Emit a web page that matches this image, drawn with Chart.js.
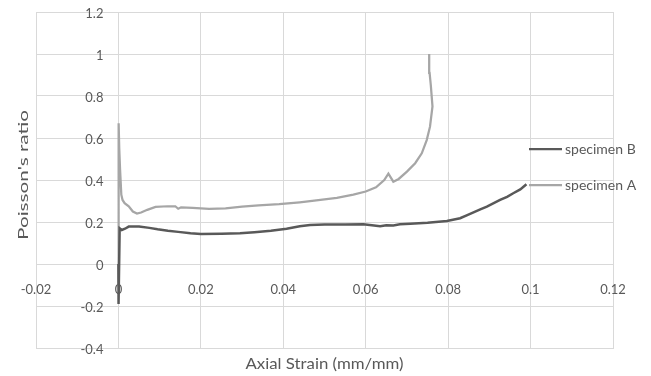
<!DOCTYPE html>
<html><head><meta charset="utf-8">
<script src="https://cdn.jsdelivr.net/npm/chart.js@4"></script>
<style>html,body{margin:0;padding:0;background:#fff}#wrap{width:651px;height:376px;position:relative}</style>
</head><body><div id="wrap"><canvas id="c" width="651" height="376"></canvas></div>
<script>
const seriesNames = ['specimen B', 'specimen A'];
const strainB = [0, 0.00003, 0.0003, 0.0008, 0.0016, 0.0025, 0.005, 0.0075, 0.0095, 0.012, 0.0145, 0.0175, 0.02, 0.025, 0.0295, 0.033, 0.037, 0.0408, 0.044, 0.0465, 0.05, 0.055, 0.0594, 0.0615, 0.0635, 0.065, 0.0667, 0.0683, 0.0708, 0.075, 0.0797, 0.0829, 0.0845, 0.0878, 0.0894, 0.0926, 0.0943, 0.0958, 0.0975, 0.099];
const ratioB  = [0, -0.19, 0.17, 0.162, 0.168, 0.178, 0.178, 0.172, 0.165, 0.158, 0.153, 0.146, 0.143, 0.144, 0.146, 0.151, 0.158, 0.168, 0.18, 0.186, 0.188, 0.188, 0.189, 0.184, 0.18, 0.185, 0.183, 0.189, 0.192, 0.196, 0.205, 0.218, 0.232, 0.26, 0.273, 0.305, 0.32, 0.337, 0.355, 0.38];
const strainA = [0, 0.00005, 0.0002, 0.0004, 0.0007, 0.001, 0.0015, 0.0025, 0.0035, 0.0045, 0.0055, 0.007, 0.009, 0.012, 0.0138, 0.0145, 0.0152, 0.018, 0.022, 0.026, 0.03, 0.034, 0.039, 0.044, 0.049, 0.053, 0.057, 0.06, 0.0625, 0.0645, 0.0655, 0.0667, 0.068, 0.07, 0.072, 0.0736, 0.0748, 0.0756, 0.0762, 0.0758, 0.0755, 0.0754];
const ratioA  = [-0.1, 0.67, 0.55, 0.45, 0.33, 0.305, 0.29, 0.275, 0.25, 0.24, 0.245, 0.258, 0.272, 0.275, 0.275, 0.263, 0.27, 0.267, 0.263, 0.265, 0.273, 0.279, 0.285, 0.294, 0.305, 0.315, 0.33, 0.345, 0.365, 0.4, 0.43, 0.392, 0.405, 0.44, 0.48, 0.527, 0.59, 0.654, 0.75, 0.85, 0.91, 1.0];
const xTickLabels = ['-0.02', '0', '0.02', '0.04', '0.06', '0.08', '0.1', '0.12'];
const yTickLabels = ['-0.4', '-0.2', '0', '0.2', '0.4', '0.6', '0.8', '1', '1.2'];
const xTitle = 'Axial Strain (mm/mm)';
const yTitle = "Poisson's ratio";

const X_MIN = -0.02, X_MAX = 0.12, X_STEP = 0.02;
const Y_MIN = -0.4, Y_MAX = 1.2, Y_STEP = 0.2;
const TXT = '#595959', GRID = '#d9d9d9';
const FONT = 'Lato, "Liberation Sans", sans-serif';

function pts(xs, ys) { return xs.map((x, i) => ({x: x, y: ys[i]})); }

function drawText(ctx, text, x, y, sx, sy, rot) {
  ctx.save();
  ctx.translate(x, y);
  if (rot) ctx.rotate(rot);
  ctx.scale(sx, sy);
  ctx.fillText(text, 0, 0);
  ctx.restore();
}

const textPlugin = {
  id: 'textPlugin',
  beforeDatasetsDraw(chart) {
    const ctx = chart.ctx, xs = chart.scales.x, ys = chart.scales.y;
    const x0 = xs.getPixelForValue(0), y0 = ys.getPixelForValue(0);
    ctx.save();
    ctx.fillStyle = TXT;
    ctx.font = '13px ' + FONT;
    ctx.textBaseline = 'middle';
    ctx.textAlign = 'right';
    yTickLabels.forEach(lab => drawText(ctx, lab, x0 - 15, ys.getPixelForValue(parseFloat(lab)) + 1, 1, 1.1));
    ctx.textAlign = 'center';
    xTickLabels.forEach(lab => drawText(ctx, lab, xs.getPixelForValue(parseFloat(lab)), y0 + 25, 1, 1.1));
    // axis titles
    ctx.font = '16px ' + FONT;
    const wx = ctx.measureText(xTitle).width;
    drawText(ctx, xTitle, (xs.left + xs.right) / 2, 364, 158 / wx, 1, 0);
    ctx.font = '14px ' + FONT;
    const wy = ctx.measureText(yTitle).width;
    drawText(ctx, yTitle, 23, 175, 130 / wy, 1, -Math.PI / 2);
    ctx.restore();
  },
  afterDraw(chart) {
    const ctx = chart.ctx;
    const rows = [149, 185];
    ctx.save();
    chart.data.datasets.forEach((ds, i) => {
      const y = rows[i];
      ctx.strokeStyle = ds.borderColor;
      ctx.lineWidth = 2.25;
      ctx.beginPath(); ctx.moveTo(529, y); ctx.lineTo(562, y); ctx.stroke();
      ctx.fillStyle = TXT;
      ctx.font = '14px ' + FONT;
      ctx.textBaseline = 'middle';
      ctx.textAlign = 'left';
      ctx.fillText(ds.label, 565, y);
    });
    ctx.restore();
  }
};

new Chart(document.getElementById('c'), {
  type: 'scatter',
  data: {
    datasets: [
      {label: seriesNames[0], data: pts(strainB, ratioB), showLine: true, borderColor: '#595959', backgroundColor: '#595959', borderWidth: 2.5, pointRadius: 0, tension: 0},
      {label: seriesNames[1], data: pts(strainA, ratioA), showLine: true, borderColor: '#a6a6a6', backgroundColor: '#a6a6a6', borderWidth: 2.25, pointRadius: 0, tension: 0}
    ]
  },
  options: {
    responsive: false,
    animation: false,
    devicePixelRatio: 1,
    layout: {padding: {top: 12, right: 38, left: 0, bottom: 0}},
    plugins: {legend: {display: false}, tooltip: {enabled: false}},
    scales: {
      x: {
        type: 'linear', position: 'bottom', min: X_MIN, max: X_MAX,
        ticks: {display: false, stepSize: X_STEP},
        grid: {color: GRID, lineWidth: 1, drawTicks: false},
        border: {color: GRID},
        afterFit(s) { s.height = 28; }
      },
      y: {
        type: 'linear', position: 'left', min: Y_MIN, max: Y_MAX,
        ticks: {display: false, stepSize: Y_STEP},
        grid: {color: GRID, lineWidth: 1, drawTicks: false},
        border: {color: GRID},
        afterFit(s) { s.width = 36; }
      }
    }
  },
  plugins: [textPlugin]
});
</script>
</body></html>
